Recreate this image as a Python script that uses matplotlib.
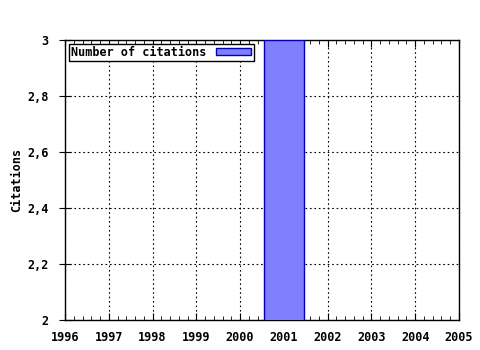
import matplotlib
matplotlib.use('Agg')
import matplotlib.pyplot as plt
from matplotlib.ticker import MultipleLocator, FuncFormatter

# data
years = [2001]
citations = [3]
xticks = [1996, 1997, 1998, 1999, 2000, 2001, 2002, 2003, 2004, 2005]
yticks = [2, 2.2, 2.4, 2.6, 2.8, 3]

plt.rcParams['font.family'] = 'DejaVu Sans Mono'
plt.rcParams['font.weight'] = 'bold'
plt.rcParams['axes.labelweight'] = 'bold'
plt.rcParams['font.size'] = 8.5

fig = plt.figure(figsize=(4.8, 3.5), dpi=100)
ax = fig.add_axes([65/480, 1-320/350, 394/480, 280/350])

ax.bar(years, citations, width=0.9, color='#8080ff', edgecolor='#0000b0',
       linewidth=1, label='Number of citations', zorder=3)

ax.set_xlim(1996, 2005)
ax.set_ylim(2, 3)
ax.set_xticks(xticks)
ax.set_yticks(yticks)
ax.yaxis.set_major_formatter(FuncFormatter(lambda v, p: ('%g' % v).replace('.', ',')))
ax.xaxis.set_minor_locator(MultipleLocator(0.2))

ax.grid(True, which='major', color='black', linestyle=(0, (1.5, 2.5)), linewidth=0.8, zorder=1)
ax.tick_params(which='both', direction='in', top=True, right=False, color='black')
ax.tick_params(axis='y', which='major', direction='inout', length=8, pad=8)
ax.tick_params(axis='x', which='major', length=5, pad=8)
ax.tick_params(axis='x', which='minor', length=3)
for s in ax.spines.values():
    s.set_linewidth(1)

ax.set_ylabel('Citations', labelpad=3)

leg = ax.legend(loc='upper left', markerfirst=False, fancybox=False, framealpha=1,
                edgecolor='black', borderpad=0.2, handlelength=3, handleheight=0.6,
                borderaxespad=0.3)
leg.get_frame().set_linewidth(1)

plt.savefig('out.png', dpi=100)
